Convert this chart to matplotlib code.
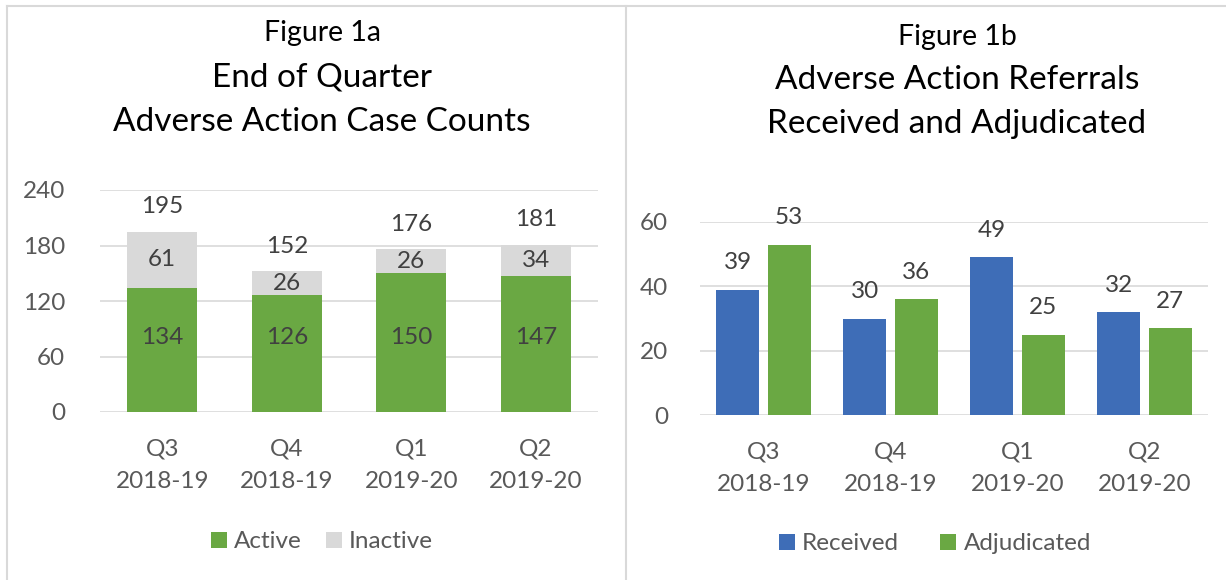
import matplotlib
matplotlib.use("Agg")
import matplotlib.pyplot as plt
from matplotlib.lines import Line2D
import numpy as np

plt.rcParams['font.family'] = ['Lato', 'DejaVu Sans']

categories = ["Q3\n2018-19", "Q4\n2018-19", "Q1\n2019-20", "Q2\n2019-20"]
active = [134, 126, 150, 147]
inactive = [61, 26, 26, 34]
totals = [195, 152, 176, 181]
received = [39, 30, 49, 32]
adjudicated = [53, 36, 25, 27]

GREEN = "#6AA843"
GRAY = "#D9D9D9"
BLUE = "#3E6DB7"
TXT = "#595959"
LBL = "#404040"
GRID = "#D9D9D9"
FS = 17.5

W, H = 1226, 580
fig = plt.figure(figsize=(W / 100, H / 100), dpi=100)
fig.patch.set_facecolor("white")

def fx(px): return px / W
def fy(py): return 1 - py / H

# panel borders
for seg in [((7, 7), (6, 600)), ((626, 626), (6, 600)), ((7, 1226), (6, 6))]:
    fig.add_artist(Line2D([fx(seg[0][0]), fx(seg[0][1])], [fy(seg[1][0]), fy(seg[1][1])],
                          color="#D9D9D9", lw=1.5, transform=fig.transFigure))

def style(ax):
    for s in ax.spines.values():
        s.set_visible(False)
    ax.tick_params(axis='both', length=0, labelsize=FS, colors=TXT)
    ax.yaxis.grid(True, color=GRID, lw=1.2)
    ax.set_axisbelow(True)

# ---------- Figure 1a ----------
ax1 = fig.add_axes([fx(100), fy(412), fx(598) - fx(100), fy(190) - fy(412)])
x = np.arange(len(categories))
bw = 0.56
b1 = ax1.bar(x, active, bw, color=GREEN, label="Active")
b2 = ax1.bar(x, inactive, bw, bottom=active, color=GRAY, label="Inactive")
ax1.set_ylim(0, 240)
ax1.set_yticks([0, 60, 120, 180, 240])
ax1.set_xlim(-0.5, len(categories) - 0.5)
ax1.set_xticks(x)
ax1.set_xticklabels(categories, linespacing=1.7)
style(ax1)
ax1.tick_params(axis='x', pad=19)
ax1.tick_params(axis='y', pad=25)
inner_y = 81
for i in range(len(categories)):
    ax1.text(x[i], inner_y, str(active[i]), ha='center', va='center', fontsize=FS, color=LBL)
    ax1.text(x[i], active[i] + inactive[i] / 2, str(inactive[i]), ha='center', va='center', fontsize=FS, color=LBL)
    ax1.text(x[i], totals[i] + 27, str(totals[i]), ha='center', va='center', fontsize=FS, color=LBL)

fig.text(fx(322), fy(33), "Figure 1a", ha='center', va='center', fontsize=20.5, color="black")
fig.text(fx(322), fy(78), "End of Quarter", ha='center', va='center', fontsize=24, color="black")
fig.text(fx(322), fy(122), "Adverse Action Case Counts", ha='center', va='center', fontsize=24, color="black")
fig.legend(handles=[b1, b2], labels=["Active", "Inactive"], loc='center', bbox_to_anchor=(fx(322), fy(542)),
           ncol=2, frameon=False, fontsize=FS, handlelength=0.65, handleheight=0.65,
           handletextpad=0.3, columnspacing=1.0, labelcolor=TXT)

# ---------- Figure 1b ----------
ax2 = fig.add_axes([fx(700), fy(415), fx(1208) - fx(700), fy(222) - fy(415)])
bw2 = 0.34
gap = 0.065
off = (bw2 + gap) / 2
r1 = ax2.bar(x - off, received, bw2, color=BLUE, label="Received")
r2 = ax2.bar(x + off, adjudicated, bw2, color=GREEN, label="Adjudicated")
ax2.set_ylim(0, 60)
ax2.set_yticks([0, 20, 40, 60])
ax2.set_xlim(-0.5, len(categories) - 0.5)
ax2.set_xticks(x)
ax2.set_xticklabels(categories, linespacing=1.7)
style(ax2)
ax2.tick_params(axis='x', pad=19)
ax2.tick_params(axis='y', pad=23)
for i in range(len(categories)):
    ax2.text(x[i] - off, received[i] + 8.4, str(received[i]), ha='center', va='center', fontsize=FS, color=LBL)
    ax2.text(x[i] + off, adjudicated[i] + 8.4, str(adjudicated[i]), ha='center', va='center', fontsize=FS, color=LBL)

fig.text(fx(957), fy(37), "Figure 1b", ha='center', va='center', fontsize=20.5, color="black")
fig.text(fx(957), fy(80), "Adverse Action Referrals", ha='center', va='center', fontsize=24, color="black")
fig.text(fx(957), fy(124), "Received and Adjudicated", ha='center', va='center', fontsize=24, color="black")
fig.legend(handles=[r1, r2], labels=["Received", "Adjudicated"], loc='center', bbox_to_anchor=(fx(935), fy(544)),
           ncol=2, frameon=False, fontsize=FS, handlelength=0.65, handleheight=0.65,
           handletextpad=0.3, columnspacing=1.7, labelcolor=TXT)

fig.savefig("out.png", dpi=100, facecolor="white")
